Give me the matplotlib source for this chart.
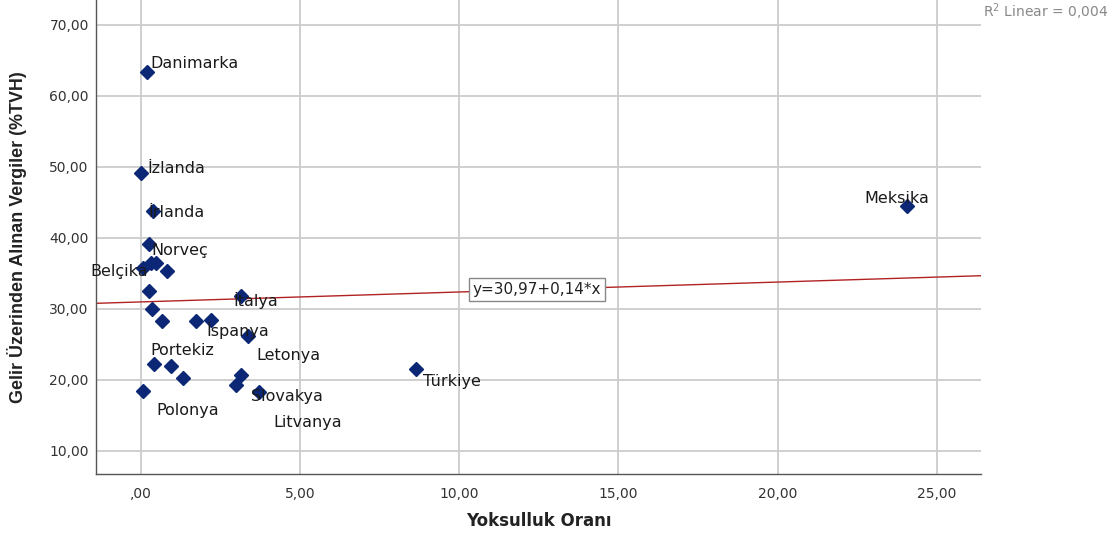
import matplotlib
matplotlib.use("Agg")
import matplotlib.pyplot as plt
import numpy as np

# ---- data ----
poverty = [0.19, 0.01, 0.38, 0.26, 0.32, 0.48, 0.08, 0.84, 0.27, 0.35, 0.66, 1.73,
           2.22, 3.14, 3.38, 0.42, 0.94, 1.32, 0.08, 3.16, 2.99, 3.72, 24.05, 8.64]
income_tax = [63.33, 49.18, 43.78, 39.09, 36.50, 36.41, 35.71, 35.33, 32.51, 29.97, 28.28, 28.24,
              28.42, 31.85, 26.21, 22.26, 21.94, 20.29, 18.46, 20.63, 19.26, 18.23, 44.53, 21.47]
labels = ["Danimarka", "İzlanda", "İrlanda", "Norveç", "", "", "Belçika", "", "", "", "", "",
          "İspanya", "İtalya", "Letonya", "Portekiz", "", "", "Polonya", "", "Litvanya", "Slovakya",
          "Meksika", "Türkiye"]
fit_intercept = 30.97
fit_slope = 0.14
r2_linear = "0,004"
x_ticks = [0, 5, 10, 15, 20, 25]
x_tick_labels = [",00", "5,00", "10,00", "15,00", "20,00", "25,00"]
y_ticks = [10, 20, 30, 40, 50, 60, 70]
y_tick_labels = ["10,00", "20,00", "30,00", "40,00", "50,00", "60,00", "70,00"]
x_title = "Yoksulluk Oranı"
y_title = "Gelir Üzerinden Alınan Vergiler (%TVH)"

# label offsets in pixels (style), keyed by label
label_offsets = {
    "Danimarka": (4, 9, "left"),
    "İzlanda": (6, 4, "left"),
    "İrlanda": (-4, -1, "left"),
    "Norveç": (2, -6, "left"),
    "Belçika": (5, -3, "right"),
    "İtalya": (-7, -5, "left"),
    "İspanya": (-5, -10, "left"),
    "Portekiz": (-4, 13, "left"),
    "Letonya": (8, -20, "left"),
    "Slovakya": (-8, -4, "left"),
    "Polonya": (13, -20, "left"),
    "Litvanya": (37, -37, "left"),
    "Türkiye": (7, -12, "left"),
    "Meksika": (-42, 7, "left"),
}

W, H = 1117, 534
fig = plt.figure(figsize=(W / 100, H / 100), dpi=100)
ax = fig.add_axes([95.7 / W, 1 - 474 / H, (981.5 - 95.7) / W, 474 / H])

ax.set_xlim(-1.413, 26.40)
ax.set_ylim(6.72, 73.52)

ax.grid(True, color="#cccccc", linewidth=1.3, zorder=0)
ax.set_axisbelow(True)
for s in ["top", "right"]:
    ax.spines[s].set_visible(False)
for s in ["left", "bottom"]:
    ax.spines[s].set_color("#555555")
    ax.spines[s].set_linewidth(1.0)

ax.set_xticks(x_ticks)
ax.set_xticklabels(x_tick_labels)
ax.set_yticks(y_ticks)
ax.set_yticklabels(y_tick_labels)
ax.tick_params(axis="both", length=0, labelsize=10, colors="#333333")
ax.tick_params(axis="x", pad=9)
ax.tick_params(axis="y", pad=5)

# fit line
ax.axline((0, fit_intercept), slope=fit_slope, color="#b22222", linewidth=1.0, zorder=2)
xe = 12.45
ax.text(xe, fit_intercept + fit_slope * xe, "y=30,97+0,14*x", ha="center", va="center",
        fontsize=11, color="#222222", zorder=4,
        bbox=dict(boxstyle="square,pad=0.25", facecolor="white", edgecolor="#888888", linewidth=1))

# points
ax.plot(poverty, income_tax, linestyle="none", marker="D", markersize=7,
        color="#0b2775", zorder=3)

for x, y, lab in zip(poverty, income_tax, labels):
    if lab:
        dx, dy, ha = label_offsets[lab]
        ax.annotate(lab, (x, y), xytext=(dx, dy), textcoords="offset pixels",
                    ha=ha, va="center", fontsize=11.5, color="#1a1a1a", zorder=5)

ax.set_xlabel(x_title, fontsize=12, fontweight="bold", color="#222222")
ax.xaxis.set_label_coords(0.5, -0.080)
ax.set_ylabel(y_title, fontsize=12.9, fontweight="bold", color="#222222",
              family=["Liberation Sans", "DejaVu Sans"])
ax.yaxis.set_label_coords(-0.077, 0.5)

fig.text(1108 / W, 1 - 12 / H, r"R$^2$ Linear = " + r2_linear, ha="right", va="center",
         fontsize=10, color="#888888")

fig.savefig("out.png", dpi=100)
